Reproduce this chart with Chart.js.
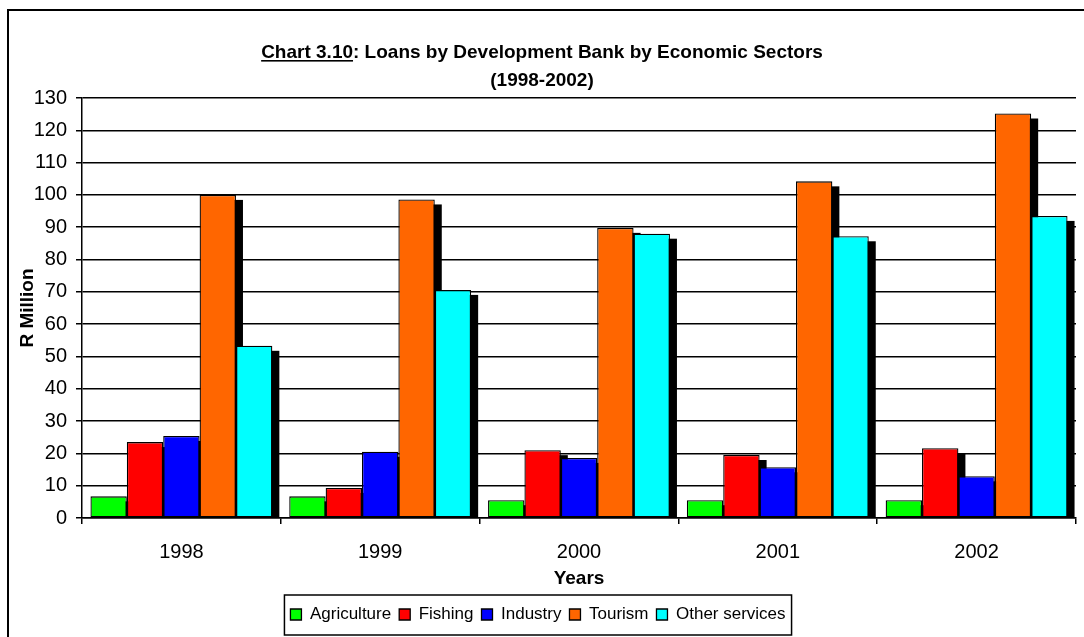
<!DOCTYPE html>
<html>
<head>
<meta charset="utf-8">
<title>Loans by Development Bank by Economic Sectors</title>
<script src="https://cdn.jsdelivr.net/npm/chart.js@4.4.1/dist/chart.umd.min.js"></script>
<style>
  html, body { margin: 0; padding: 0; background: #fff; }
  #wrap { width: 1084px; height: 637px; }
</style>
</head>
<body>
<div id="wrap"><canvas id="loansChart" width="1084" height="637"></canvas></div>
<script>
// Loans (R million) per sector and year
const years = ['1998', '1999', '2000', '2001', '2002'];
const agriculture = [6.7, 6.7, 5.5, 5.5, 5.5];
const fishing = [23.5, 9.3, 21.0, 19.5, 21.6];
const industry = [25.4, 20.5, 18.6, 15.7, 12.9];
const tourism = [100, 98.6, 89.8, 104.2, 125.2];
const otherServices = [53.3, 70.6, 88.0, 87.2, 93.5];

const sectorNames = ['Agriculture', 'Fishing', 'Industry', 'Tourism', 'Other services'];
const sectorValues = [agriculture, fishing, industry, tourism, otherServices];
const sectorColors = ['#00ff00', '#ff0000', '#0000ff', '#ff6600', '#00ffff'];

const yMin = 0;
const yMax = 130;
const yStep = 10;

const FONT = "'Liberation Sans', Arial, sans-serif";

// white page + the frame line along the left and top
const framePlugin = {
  id: 'frame',
  beforeDraw(chart) {
    const ctx = chart.ctx;
    ctx.save();
    ctx.fillStyle = '#fff';
    ctx.fillRect(0, 0, chart.width, chart.height);
    ctx.strokeStyle = '#000';
    ctx.lineWidth = 2;
    ctx.beginPath();
    ctx.moveTo(8, chart.height);
    ctx.lineTo(8, 10);
    ctx.lineTo(chart.width, 10);
    ctx.stroke();
    ctx.restore();
  }
};

// black drop shadow to the lower right of every bar
const shadowPlugin = {
  id: 'barShadows',
  beforeDatasetsDraw(chart) {
    const ctx = chart.ctx;
    const area = chart.chartArea;
    ctx.save();
    ctx.beginPath();
    ctx.rect(area.left, area.top, area.right - area.left + 10, area.bottom - area.top);
    ctx.clip();
    ctx.fillStyle = '#000';
    chart.data.datasets.forEach((ds, i) => {
      chart.getDatasetMeta(i).data.forEach(bar => {
        const p = bar.getProps(['x', 'y', 'base', 'width'], true);
        const h = p.base - p.y - 5;
        if (h > 0) ctx.fillRect(p.x - p.width / 2 + 7, p.y + 5, p.width, h);
      });
    });
    ctx.restore();
  }
};

// two line heading, with the chart number underlined
const headingPlugin = {
  id: 'heading',
  afterDraw(chart) {
    const ctx = chart.ctx;
    const cx = chart.width / 2;
    const lead = 'Chart 3.10';
    const rest = ': Loans by Development Bank by Economic Sectors';
    ctx.save();
    ctx.fillStyle = '#000';
    ctx.font = 'bold 19px ' + FONT;
    ctx.textBaseline = 'alphabetic';
    ctx.textAlign = 'left';
    const leadW = ctx.measureText(lead).width;
    const restW = ctx.measureText(rest).width;
    const x0 = cx - (leadW + restW) / 2;
    const y1 = 58;
    ctx.fillText(lead, x0, y1);
    ctx.fillText(rest, x0 + leadW, y1);
    ctx.fillRect(x0, y1 + 2, leadW, 1.6);
    ctx.textAlign = 'center';
    ctx.fillText('(1998-2002)', cx, 86);
    ctx.restore();
  }
};

// rectangle round the legend entries
const legendBoxPlugin = {
  id: 'legendBox',
  afterDraw(chart) {
    const lg = chart.legend;
    if (!lg || !lg.legendHitBoxes.length) return;
    const boxes = lg.legendHitBoxes;
    const left = Math.min(...boxes.map(b => b.left)) - 6;
    const right = Math.max(...boxes.map(b => b.left + b.width)) + 6;
    const top = Math.min(...boxes.map(b => b.top)) - 11;
    const bottom = Math.max(...boxes.map(b => b.top + b.height)) + 12;
    const ctx = chart.ctx;
    ctx.save();
    ctx.strokeStyle = '#000';
    ctx.lineWidth = 1.5;
    ctx.strokeRect(left, top, right - left, bottom - top);
    ctx.restore();
  }
};

const datasets = sectorNames.map((name, i) => ({
  label: name,
  data: sectorValues[i],
  backgroundColor: sectorColors[i],
  borderColor: '#000',
  borderWidth: 1.3,
  borderSkipped: false,
  categoryPercentage: 0.915,
  barPercentage: 1.0
}));

new Chart(document.getElementById('loansChart'), {
  type: 'bar',
  data: { labels: years, datasets: datasets },
  options: {
    responsive: false,
    animation: false,
    devicePixelRatio: 1,
    layout: { padding: { top: 98, left: 0, right: 8, bottom: 4 } },
    plugins: {
      title: { display: false },
      tooltip: { enabled: false },
      legend: {
        position: 'bottom',
        labels: {
          boxWidth: 11,
          boxHeight: 11,
          padding: 8,
          color: '#000',
          font: { family: FONT, size: 17 }
        }
      }
    },
    scales: {
      x: {
        afterFit(scale) { scale.height = 80; },
        grid: { offset: true, drawOnChartArea: false, tickLength: 6, color: '#000', lineWidth: 1.5 },
        border: { color: '#000', width: 1.5 },
        ticks: { color: '#000', padding: 16, font: { family: FONT, size: 20 } },
        title: {
          display: true,
          text: 'Years',
          color: '#000',
          padding: { top: 0, bottom: 8 },
          font: { family: FONT, size: 19, weight: 'bold' }
        }
      },
      y: {
        min: yMin,
        max: yMax,
        afterFit(scale) { scale.width = 82; },
        grid: { color: '#000', lineWidth: 1.5, tickLength: 6 },
        border: { color: '#000', width: 1.5 },
        ticks: { stepSize: yStep, color: '#000', padding: 9, font: { family: FONT, size: 20 } },
        title: {
          display: true,
          text: 'R Million',
          color: '#000',
          padding: { top: 16, bottom: 0 },
          font: { family: FONT, size: 19, weight: 'bold' }
        }
      }
    }
  },
  plugins: [framePlugin, shadowPlugin, headingPlugin, legendBoxPlugin]
});
</script>
</body>
</html>
